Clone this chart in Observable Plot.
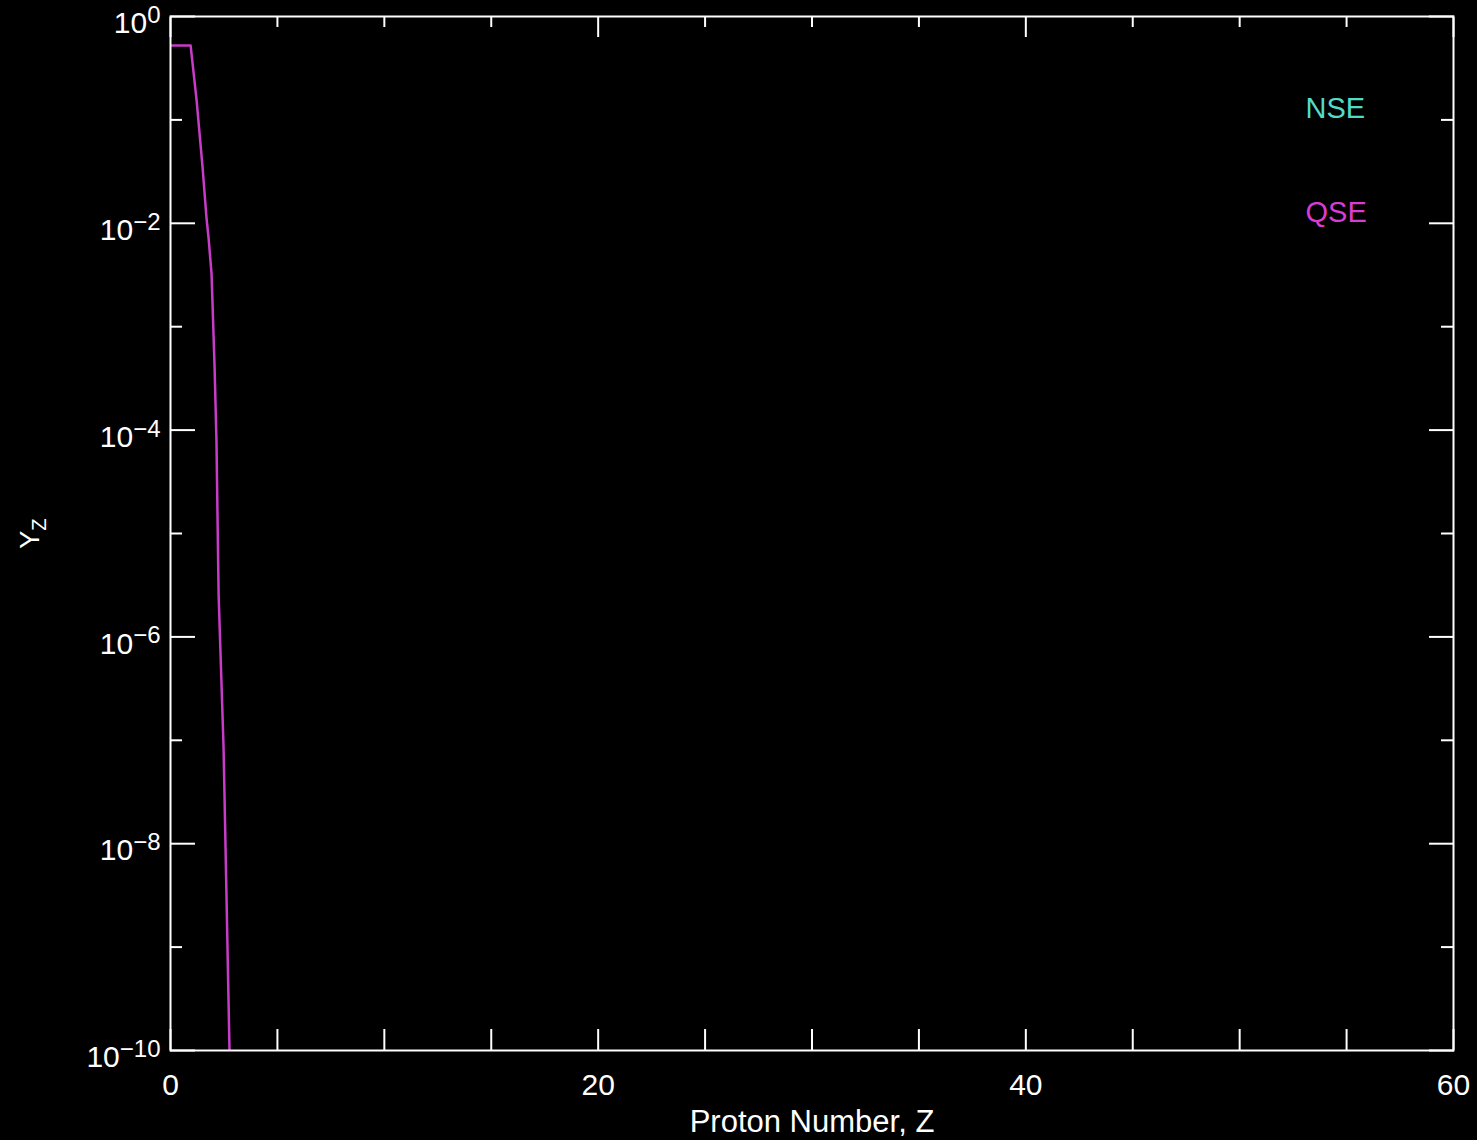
<!DOCTYPE html>
<html>
<head>
<meta charset="utf-8">
<script src="https://cdn.jsdelivr.net/npm/d3@7"></script>
<script src="https://cdn.jsdelivr.net/npm/@observablehq/plot@0.6"></script>
<style>
  html, body { margin: 0; padding: 0; background: #000; }
  #chart { width: 1477px; height: 1140px; }
</style>
</head>
<body>
<div id="chart"></div>
<script>
// QSE abundance curve
const qseZ = [0, 0.94, 1.22, 1.50, 1.68, 1.78, 1.92, 2.06, 2.15, 2.25, 2.48, 2.62, 2.76];
const qseY = [0.525, 0.525, 0.155, 0.0347, 0.0115, 0.00724, 0.00324, 4.17e-4, 7.76e-5, 2.57e-6, 8.7e-8, 3.0e-9, 1e-10];

const xMajorTicks = [0, 20, 40, 60];
const xMinorTicks = [5, 10, 15, 25, 30, 35, 45, 50, 55];
const yMajorTicks = [1, 1e-2, 1e-4, 1e-6, 1e-8, 1e-10];
const yMinorTicks = [1e-1, 1e-3, 1e-5, 1e-7, 1e-9];
const yTickExponents = ["0", "\u22122", "\u22124", "\u22126", "\u22128", "\u221210"];

const legendLabels = ["NSE", "QSE"];
const legendColors = ["#52dcc8", "#d83cd4"];
const xLabel = "Proton Number, Z";
const yLabelMain = "Y";
const yLabelSub = "Z";

const qse = qseZ.map((z, i) => ({z, y: qseY[i]}));

const W = "white";
const plot = Plot.plot({
  width: 1477,
  height: 1140,
  marginLeft: 170,
  marginRight: 24,
  marginTop: 16,
  marginBottom: 90,
  style: {background: "black", color: "white", fontFamily: "Liberation Sans, Arial, sans-serif"},
  x: {type: "linear", domain: [0, 60]},
  y: {type: "log", domain: [1e-10, 1]},
  marks: [
    Plot.line(qse, {x: "z", y: "y", stroke: "#c83cc8", strokeWidth: 2.5, clip: true}),
    Plot.frame({stroke: W, strokeWidth: 2}),
    // inward ticks
    Plot.axisX(xMajorTicks.concat(xMinorTicks), {anchor: "bottom", tickSize: -21, strokeWidth: 2, stroke: W, fill: "none", label: null}),
    Plot.axisX(xMajorTicks, {anchor: "top", tickSize: -20, strokeWidth: 2, stroke: W, fill: "none", label: null}),
    Plot.axisX(xMinorTicks, {anchor: "top", tickSize: -10, strokeWidth: 2, stroke: W, fill: "none", label: null}),
    Plot.axisY(yMajorTicks, {anchor: "left", tickSize: -25, strokeWidth: 2, stroke: W, fill: "none", label: null}),
    Plot.axisY(yMinorTicks, {anchor: "left", tickSize: -12, strokeWidth: 2, stroke: W, fill: "none", label: null}),
    Plot.axisY(yMajorTicks, {anchor: "right", tickSize: -25, strokeWidth: 2, stroke: W, fill: "none", label: null}),
    Plot.axisY(yMinorTicks, {anchor: "right", tickSize: -13, strokeWidth: 2, stroke: W, fill: "none", label: null}),
    // tick labels
    Plot.axisX(xMajorTicks, {anchor: "bottom", tickSize: 0, tickPadding: 23, fontSize: 30, fill: W, label: null, tickFormat: d => String(d)}),
    Plot.axisY(yMajorTicks, {anchor: "left", tickSize: 0, tickPadding: 10, fontSize: 30, fill: W, label: null, dy: 7,
      tickFormat: d => "10^" + yTickExponents[yMajorTicks.indexOf(d)]}),
    // axis titles
    Plot.text([xLabel], {frameAnchor: "bottom", dy: 72, text: d => d, fontSize: 31, fill: W, lineAnchor: "middle", textAnchor: "middle"}),
    Plot.text([yLabelMain], {frameAnchor: "left", dx: -140, text: d => d, rotate: -90, fontSize: 27, fill: W, lineAnchor: "middle", textAnchor: "middle"}),
    // legend
    Plot.text([legendLabels[0]], {frameAnchor: "top-left", dx: 1135, dy: 92, text: d => d, fill: legendColors[0], fontSize: 29, textAnchor: "start", lineAnchor: "middle"}),
    Plot.text([legendLabels[1]], {frameAnchor: "top-left", dx: 1135, dy: 196, text: d => d, fill: legendColors[1], fontSize: 29, textAnchor: "start", lineAnchor: "middle"})
  ]
});

// superscript exponents on y tick labels
d3.select(plot).selectAll('g[aria-label="y-axis tick label"] text').each(function() {
  const s = this.textContent;
  const parts = s.split("^");
  if (parts.length === 2) {
    const t = d3.select(this);
    t.text(parts[0]);
    t.append("tspan").attr("dy", "-0.42em").attr("font-size", "0.8em").text(parts[1]);
  }
});
// subscript on y title
d3.select(plot).selectAll("text")
  .filter(function() { return this.textContent === yLabelMain; })
  .each(function() {
    d3.select(this).append("tspan").attr("dy", "0.35em").attr("font-size", "0.75em").text(yLabelSub);
  });

document.getElementById("chart").appendChild(plot);
</script>
</body>
</html>
